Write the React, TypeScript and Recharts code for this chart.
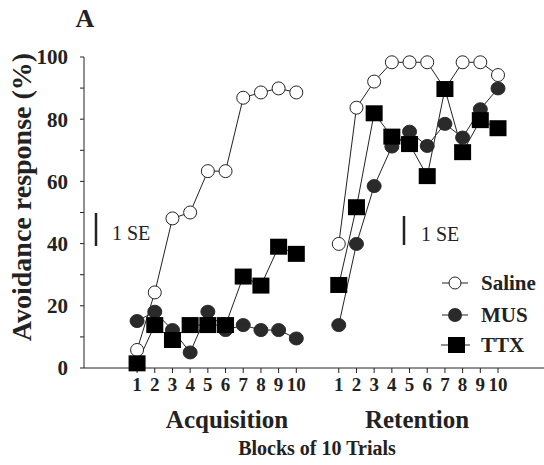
import React from "react";
import { LineChart, Line, XAxis, YAxis } from "recharts";

const blocks = [1, 2, 3, 4, 5, 6, 7, 8, 9, 10];
const RET_OFFSET = 11.4;

const salineAcq = [5.8, 24.3, 48.1, 50.0, 63.3, 63.3, 86.9, 88.6, 89.9, 88.6];
const musAcq = [15.1, 18.1, 12.2, 5.0, 18.1, 12.2, 13.8, 12.2, 12.2, 9.5];
const ttxAcq = [1.5, 13.8, 9.0, 13.8, 13.8, 13.8, 29.4, 26.5, 39.0, 36.7];

const salineRet = [39.9, 83.7, 92.1, 98.3, 98.3, 98.3, 89.7, 98.3, 98.3, 94.2];
const musRet = [13.8, 39.9, 58.5, 71.2, 76.0, 71.4, 78.5, 74.1, 83.2, 89.9];
const ttxRet = [26.7, 51.7, 81.9, 74.4, 72.0, 61.7, 89.7, 69.4, 79.7, 77.1];

const yTicks = [0, 10, 20, 30, 40, 50, 60, 70, 80, 90, 100];

const data = [
  ...blocks.map((b, i) => ({ x: b, saline: salineAcq[i], mus: musAcq[i], ttx: ttxAcq[i] })),
  { x: 11.2, saline: null, mus: null, ttx: null },
  ...blocks.map((b, i) => ({ x: b + RET_OFFSET, saline: salineRet[i], mus: musRet[i], ttx: ttxRet[i] })),
];
const xTicks = [...blocks, ...blocks.map((b) => b + RET_OFFSET)];

const FONT = "Liberation Serif, Times New Roman, serif";
const INK = "#222";

const OpenDot = (p: any) => {
  if (p.value == null || p.cx == null) return null;
  return <circle key={p.key} cx={p.cx} cy={p.cy} r={6.5} fill="#fff" stroke={INK} strokeWidth={1} />;
};
const FilledDot = (p: any) => {
  if (p.value == null || p.cx == null) return null;
  return <ellipse key={p.key} cx={p.cx} cy={p.cy} rx={7} ry={6.5} fill="#2a2a2a" stroke="#2a2a2a" />;
};
const SquareDot = (p: any) => {
  if (p.value == null || p.cx == null) return null;
  return <rect key={p.key} x={p.cx - 8.5} y={p.cy - 8} width={17} height={16} fill="#000" />;
};

const YTick = (p: any) => {
  const v = p.payload.value;
  const major = v % 20 === 0;
  return (
    <g>
      <line x1={p.x + 8} x2={p.x + 12} y1={p.y} y2={p.y} stroke={INK} strokeWidth={1} />
      {major && (
        <text x={p.x - 4} y={p.y} dy="0.35em" textAnchor="end" fontFamily={FONT} fontWeight="bold" fontSize={21} fill={INK}>
          {v}
        </text>
      )}
    </g>
  );
};

const XTick = (p: any) => {
  const v = p.payload.value;
  const lbl = v > 11 ? Math.round(v - RET_OFFSET) : v;
  return (
    <text x={p.x} y={p.y} dy="0.71em" textAnchor="middle" fontFamily={FONT} fontWeight="bold" fontSize={19} fill={INK}>
      {lbl}
    </text>
  );
};

export default function App() {
  return (
    <div style={{ position: "absolute", left: 0, top: 0, width: 544, height: 465, background: "#fff" }}>
      <LineChart width={544} height={465} data={data} margin={{ top: 57, right: 0, left: 0, bottom: 67 }}>
        <XAxis
          dataKey="x"
          type="number"
          domain={[-2, 24]}
          ticks={xTicks}
          interval={0}
          tick={<XTick />}
          tickSize={5}
          tickMargin={5}
          axisLine={{ stroke: INK, strokeWidth: 1 }}
          tickLine={{ stroke: INK }}
          height={30}
          allowDataOverflow
        />
        <YAxis
          type="number"
          domain={[0, 100]}
          ticks={yTicks}
          interval={0}
          width={84}
          tick={<YTick />}
          tickLine={false}
          tickSize={4}
          tickMargin={8}
          axisLine={{ stroke: INK, strokeWidth: 1 }}
        />
        <Line dataKey="saline" stroke={INK} strokeWidth={1} dot={<OpenDot />} isAnimationActive={false} connectNulls={false} />
        <Line dataKey="mus" stroke={INK} strokeWidth={1} dot={<FilledDot />} isAnimationActive={false} connectNulls={false} />
        <Line dataKey="ttx" stroke={INK} strokeWidth={1} dot={<SquareDot />} isAnimationActive={false} connectNulls={false} />
      </LineChart>
      <svg width={544} height={465} style={{ position: "absolute", left: 0, top: 0, pointerEvents: "none" }}>
        <text x={85} y={27} textAnchor="middle" fontFamily={FONT} fontWeight="bold" fontSize={26} fill={INK}>A</text>
        <text transform="translate(31,197) rotate(-90)" textAnchor="middle" fontFamily={FONT} fontWeight="bold" fontSize={28} fill={INK}>
          Avoidance response (%)
        </text>
        <line x1={96} x2={96} y1={213} y2={246} stroke={INK} strokeWidth={2.5} />
        <text x={112} y={240} fontFamily={FONT} fontSize={20} fill={INK}>1 SE</text>
        <line x1={404} x2={404} y1={216} y2={245} stroke={INK} strokeWidth={2.5} />
        <text x={421} y={241} fontFamily={FONT} fontSize={20} fill={INK}>1 SE</text>
        <line x1={442} x2={468} y1={283} y2={283} stroke={INK} strokeWidth={1} />
        <circle cx={455} cy={283} r={6} fill="#fff" stroke={INK} />
        <text x={481} y={290} fontFamily={FONT} fontWeight="bold" fontSize={21} fill={INK}>Saline</text>
        <line x1={442} x2={468} y1={315} y2={315} stroke={INK} strokeWidth={1} />
        <circle cx={455} cy={315} r={7} fill="#2a2a2a" />
        <text x={481} y={322} fontFamily={FONT} fontWeight="bold" fontSize={21} fill={INK}>MUS</text>
        <line x1={441} x2={470} y1={345} y2={345} stroke={INK} strokeWidth={1} />
        <rect x={448} y={337} width={17} height={16} fill="#000" />
        <text x={481} y={352} fontFamily={FONT} fontWeight="bold" fontSize={21} fill={INK}>TTX</text>
        <text x={227} y={428} textAnchor="middle" fontFamily={FONT} fontWeight="bold" fontSize={25} fill={INK}>Acquisition</text>
        <text x={417} y={428} textAnchor="middle" fontFamily={FONT} fontWeight="bold" fontSize={25} fill={INK}>Retention</text>
        <text x={317} y={455} textAnchor="middle" fontFamily={FONT} fontWeight="bold" fontSize={20} fill={INK}>Blocks of 10 Trials</text>
      </svg>
    </div>
  );
}
